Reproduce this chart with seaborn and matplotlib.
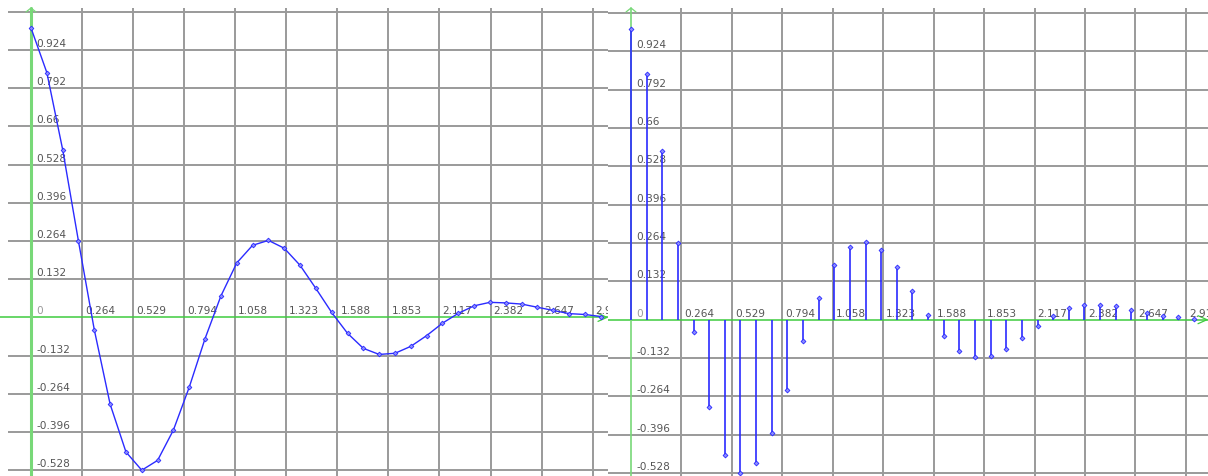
import matplotlib
matplotlib.use('Agg')
import matplotlib.pyplot as plt
import seaborn as sns
import pandas as pd

# sample times and signal values
t = [0.000, 0.082, 0.164, 0.246, 0.328, 0.410, 0.492, 0.574, 0.656, 0.738,
     0.820, 0.902, 0.984, 1.066, 1.148, 1.230, 1.312, 1.394, 1.476, 1.558,
     1.640, 1.722, 1.804, 1.886, 1.968, 2.050, 2.132, 2.214, 2.296, 2.378,
     2.460, 2.542, 2.624, 2.706, 2.788, 2.870, 2.952]
y = [1.000, 0.846, 0.580, 0.263, -0.043, -0.300, -0.465, -0.528, -0.494, -0.389,
     -0.241, -0.073, 0.074, 0.188, 0.249, 0.266, 0.239, 0.180, 0.100, 0.017,
     -0.055, -0.107, -0.128, -0.124, -0.100, -0.063, -0.020, 0.014, 0.040, 0.052,
     0.050, 0.046, 0.035, 0.024, 0.013, 0.010, 0.003]

x_ticks = [0.2645, 0.5291, 0.7936, 1.0582, 1.3227, 1.5873, 1.8518, 2.1164, 2.3809, 2.6455, 2.9100]
x_tick_labels = ['0.264', '0.529', '0.794', '1.058', '1.323', '1.588', '1.853', '2.117', '2.382', '2.647', '2.91']
y_grid = [1.056, 0.924, 0.792, 0.66, 0.528, 0.396, 0.264, 0.132, -0.132, -0.264, -0.396, -0.528]
y_tick_labels = ['', '0.924', '0.792', '0.66', '0.528', '0.396', '0.264', '0.132', '-0.132', '-0.264', '-0.396', '-0.528']

df = pd.DataFrame({'t': t, 'y': y})

sns.set_style('white')
plt.rcParams['font.family'] = ['DejaVu Sans']

W, H = 1208, 477
fig = plt.figure(figsize=(W / 100, H / 100), dpi=100)

BLUE = '#2b2bff'
GRID = '#9a9a9a'
GREEN_Y = '#78d878'
GREEN_X = '#3fcc3f'
TXT = '#555555'


def setup(ax, xlim, ylim, wpx, ylw):
    ax.set_xlim(*xlim)
    ax.set_ylim(*ylim)
    ax.set_axis_off()
    dx = (xlim[1] - xlim[0]) / wpx
    dy = (ylim[1] - ylim[0]) / H
    top = ylim[1] - 9 * dy
    # grid
    ax.hlines(y_grid, -23 * dx, xlim[1], color=GRID, lw=1.4, zorder=1)
    ax.vlines(x_ticks, ylim[0], top, color=GRID, lw=1.4, zorder=1)
    # axes with small chevrons
    ax.plot([xlim[0], xlim[1]], [0, 0], color=GREEN_X, lw=1.1, zorder=2)
    ax.plot([0, 0], [ylim[0], top], color=GREEN_Y, lw=ylw, zorder=2)
    ax.plot([-5 * dx, 0, 5 * dx], [top - 4 * dy, top, top - 4 * dy], color=GREEN_Y, lw=0.9, zorder=2)
    tip = xlim[1] - 1 * dx
    ax.plot([tip - 9 * dx, tip, tip - 9 * dx], [4 * dy, 0, -4 * dy], color=GREEN_X, lw=0.9, zorder=2)
    # tick labels drawn inside the plot
    for v, lab in zip(y_grid, y_tick_labels):
        if lab:
            ax.annotate(lab, (0, v), xytext=(5, 2), textcoords='offset pixels',
                        ha='left', va='bottom', fontsize=7.6, color=TXT, clip_on=True, zorder=3)
    for v, lab in zip(x_ticks, x_tick_labels):
        ax.annotate(lab, (v, 0), xytext=(3, 2), textcoords='offset pixels',
                    ha='left', va='bottom', fontsize=7.6, color=TXT, clip_on=True, zorder=3)
    ax.annotate('0', (0, 0), xytext=(5, 2), textcoords='offset pixels',
                ha='left', va='bottom', fontsize=7.6, color='#9a9a9a', clip_on=True, zorder=3)


# left panel: line with markers
ax1 = fig.add_axes([0, 0, 608 / W, 1])
setup(ax1, (-0.1606, 2.9896), (-0.548, 1.100), 608, 2.2)
sns.lineplot(data=df, x='t', y='y', ax=ax1, color=BLUE, lw=1.0, marker='D',
             markersize=2.4, markerfacecolor='#8c8cff', markeredgecolor=BLUE,
             markeredgewidth=0.6, zorder=4)

# right panel: stems
ax2 = fig.add_axes([608 / W, 0, 600 / W, 1])
setup(ax2, (-0.1206, 3.0257), (-0.538, 1.104), 600, 1.2)
ax2.vlines(df['t'], 0, df['y'], color=BLUE, lw=1.2, zorder=4)
sns.scatterplot(data=df, x='t', y='y', ax=ax2, color='#8c8cff', edgecolor=BLUE,
                marker='D', s=6, linewidth=0.6, zorder=5)
ax2.set_axis_off()
ax1.set_axis_off()

fig.savefig('out.png', dpi=100)
